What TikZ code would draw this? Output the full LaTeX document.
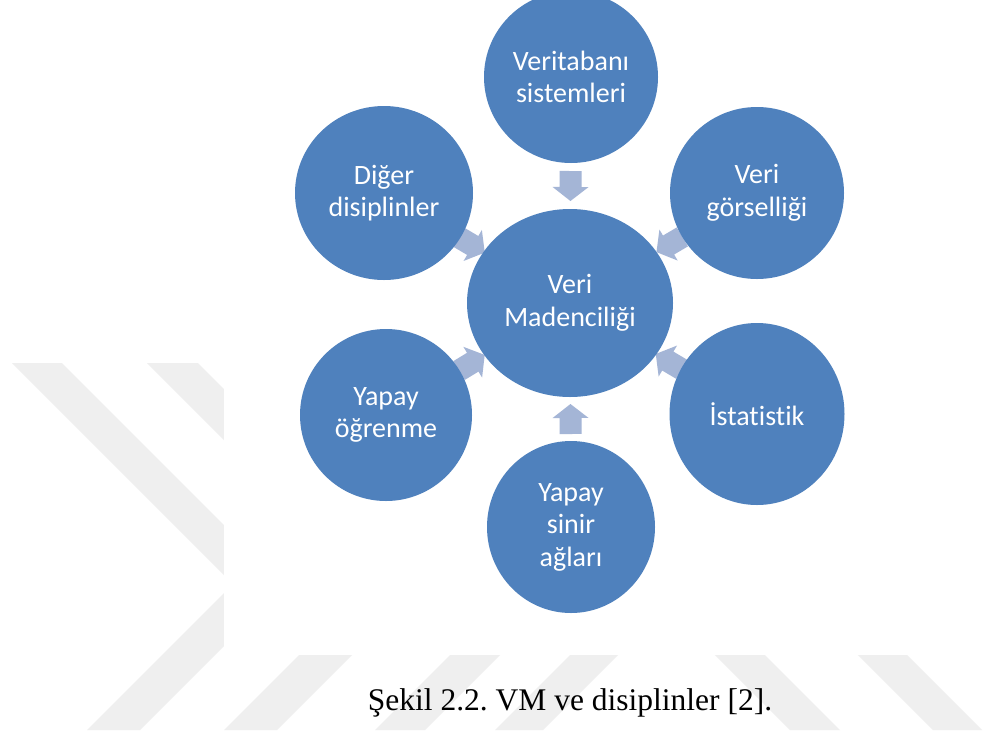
\documentclass[tikz,border=0pt]{standalone}
\usepackage{fontspec}
\setmainfont{Liberation Serif}
\newfontfamily\discfont{Carlito}[Ligatures=NoCommon]
\usetikzlibrary{shapes.geometric}
\definecolor{discblue}{RGB}{79,129,189}
\definecolor{feedblue}{RGB}{164,181,214}
\definecolor{wmgray}{RGB}{239,239,239}
\pgfdeclarelayer{backdrop}
\pgfdeclarelayer{feeds}
\pgfsetlayers{backdrop,feeds,main}
\frenchspacing
\begin{document}
\begin{tikzpicture}[x=1pt,y=-1pt,
  disc/.style={ellipse, fill=discblue, inner sep=0pt, text=white, align=center,
    font=\discfont\fontsize{28}{32.5}\selectfont},
  feedarrow/.pic={\fill[feedblue] (-15,-11) -- (1,-11) -- (1,-18) -- (15,0)
    -- (1,18) -- (1,11) -- (-15,11) -- cycle;},
  wmstripe/.style={fill=wmgray}]
\useasboundingbox (0,0) rectangle (985,745);

% central disc and the six discs around it
\node[disc, minimum width=206pt, minimum height=188pt] (vm) at (570,303) {Veri\\Madenciliği};
\node[disc, minimum width=174pt, minimum height=172pt] (vt) at (571,77) {Veritabanı\\sistemleri};
\node[disc, minimum width=174pt, minimum height=172pt] (vg) at (757,193) {Veri\\görselliği};
\node[disc, minimum width=175pt, minimum height=182pt] (ist) at (757,414) {İstatistik};
\node[disc, minimum width=168pt, minimum height=172pt] (ysa) at (571,527) {Yapay\\sinir\\ağları};
\node[disc, minimum width=172pt, minimum height=172pt] (yo) at (386,415) {Yapay\\öğrenme};
\node[disc, minimum width=178pt, minimum height=174pt] (dd) at (384,193) {Diğer\\disiplinler};

\node[anchor=base, font=\fontsize{31.5}{36}\selectfont] (cap) at (570,710)
  {Şekil 2.2. VM ve disiplinler [2].};

% block arrows pointing inwards, behind the discs
\begin{pgfonlayer}{feeds}
\foreach \src in {vt,vg,ist,ysa,yo,dd}
  \path (\src) -- (vm) pic[pos=0.5, sloped, allow upside down] {feedarrow};
\end{pgfonlayer}

% page background with the striped band
\begin{pgfonlayer}{backdrop}
\fill[white] (0,0) rectangle (985,745);
\fill[wmstripe] (12,363) -- (62,363) -- (284.5,585.5) -- (140,730) -- (87,730) -- (233,584) -- cycle;
\fill[wmstripe] (147,363) -- (198,363) -- (421,586) -- (277,730) -- (224,730) -- (369,585) -- cycle;
\fill[wmstripe] (545,560) -- (595,560) -- (425,730) -- (375,730) -- cycle;
\fill[wmstripe] (625,600) -- (673,600) -- (543,730) -- (495,730) -- cycle;
\fill[wmstripe] (660,600) -- (710,600) -- (840,730) -- (790,730) -- cycle;
\fill[wmstripe] (803,600) -- (852,600) -- (982,730) -- (933,730) -- cycle;
\fill[white] (224,0) rectangle (917,655);
\end{pgfonlayer}
\end{tikzpicture}
\end{document}
